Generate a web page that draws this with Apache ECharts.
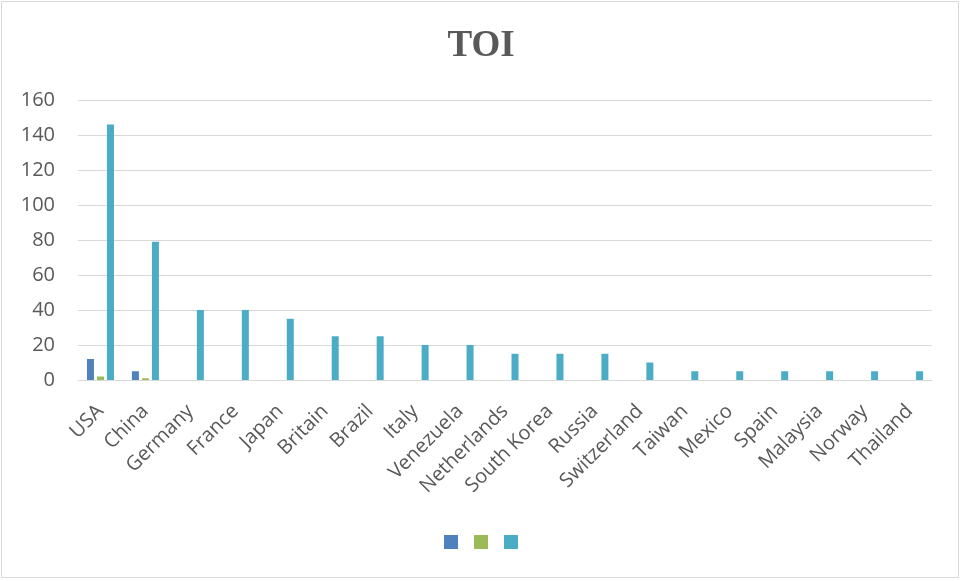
<!DOCTYPE html>
<html>
<head>
<meta charset="utf-8">
<script src="https://cdn.jsdelivr.net/npm/echarts@6/dist/echarts.min.js"></script>
<style>
  html, body { margin: 0; padding: 0; background: #fff; }
  #chart { width: 962px; height: 581px; }
</style>
</head>
<body>
<div id="chart"></div>
<script>
// Countries along the category axis
const countries = ['USA', 'China', 'Germany', 'France', 'Japan', 'Britain', 'Brazil', 'Italy',
  'Venezuela', 'Netherlands', 'South Korea', 'Russia', 'Switzerland', 'Taiwan', 'Mexico',
  'Spain', 'Malaysia', 'Norway', 'Thailand'];

// Three unnamed series
const series1 = [12, 5, 0, 0, 0, 0, 0, 0, 0, 0, 0, 0, 0, 0, 0, 0, 0, 0, 0];
const series2 = [2, 1, 0, 0, 0, 0, 0, 0, 0, 0, 0, 0, 0, 0, 0, 0, 0, 0, 0];
const series3 = [146, 79, 40, 40, 35, 25, 25, 20, 20, 15, 15, 15, 10, 5, 5, 5, 5, 5, 5];

const yTicks = { min: 0, max: 160, interval: 20 };
const colors = ['#4F81BD', '#9BBB59', '#4BACC6'];

const chart = echarts.init(document.getElementById('chart'));
const textFont = '"Open Sans", "Liberation Sans", sans-serif';

function bar(name, data) {
  return { name: name, type: 'bar', data: data, barWidth: 7, barGap: '43%' };
}

chart.setOption({
  animation: false,
  color: colors,
  title: {
    text: 'TOI',
    left: 'center',
    top: 23,
    textStyle: { fontFamily: '"Liberation Serif", "DejaVu Serif", serif', fontWeight: 'bold', fontSize: 37, color: '#595959' }
  },
  legend: {
    bottom: 27,
    left: 'center',
    icon: 'rect',
    itemWidth: 14,
    itemHeight: 14,
    itemGap: 16,
    padding: [5, 0, 5, 4],
    formatter: function () { return ''; },
    data: ['s1', 's2', 's3']
  },
  graphic: [{
    type: 'rect',
    shape: { x: 1.5, y: 1.5, width: 957, height: 576 },
    style: { fill: 'none', stroke: '#d9d9d9', lineWidth: 1 },
    silent: true
  }],
  grid: { left: 78, right: 30, top: 100, bottom: 201 },
  xAxis: {
    type: 'category',
    data: countries,
    axisLine: { lineStyle: { color: '#d9d9d9', width: 1 } },
    axisTick: { show: false },
    axisLabel: {
      rotate: 45, interval: 0, margin: 14, verticalAlign: 'top', padding: [0, 10, 0, 0],
      fontSize: 20, color: '#595959', fontFamily: textFont
    }
  },
  yAxis: {
    type: 'value',
    min: yTicks.min,
    max: yTicks.max,
    interval: yTicks.interval,
    axisLine: { show: false },
    axisTick: { show: false },
    splitLine: { lineStyle: { color: '#d9d9d9', width: 1 } },
    axisLabel: { fontSize: 20, color: '#595959', margin: 23, fontFamily: textFont }
  },
  series: [bar('s1', series1), bar('s2', series2), bar('s3', series3)]
});
</script>
</body>
</html>
